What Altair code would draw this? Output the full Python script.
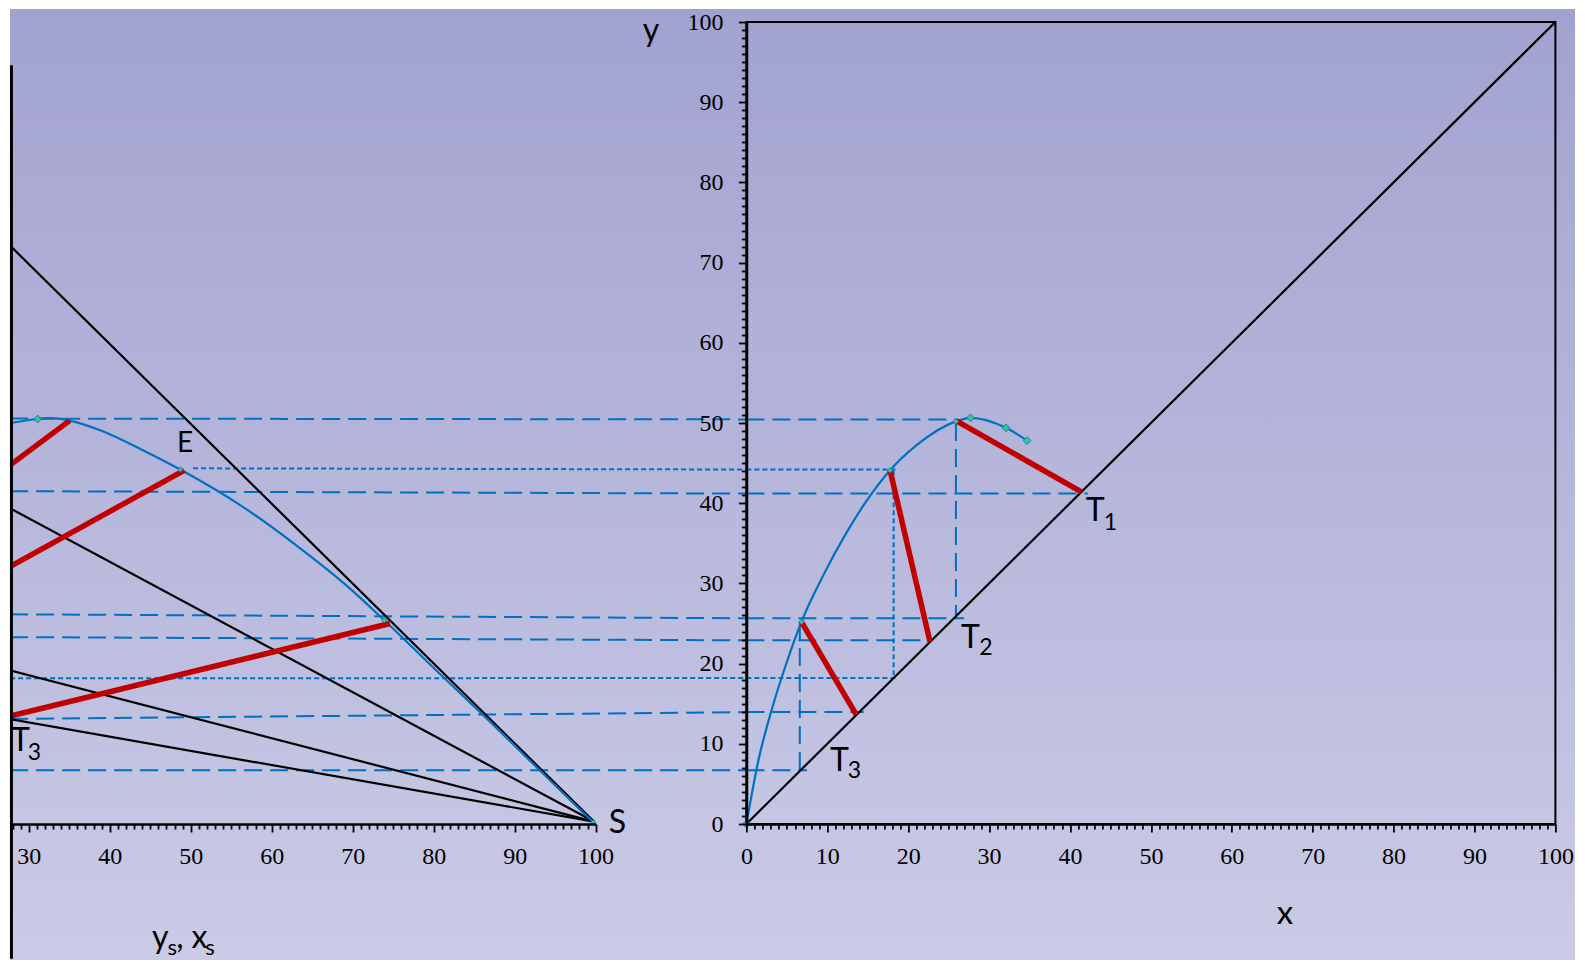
import altair as alt
import pandas as pd

# ---------------- layout (pixels) ----------------
LEFT_W = 585.6
RIGHT_W = 809
PLOT_H = 802
GAP = 150.4
LEFT_X_MIN = 27.68
LEFT_X_MAX = 100
L_PX = LEFT_W / (LEFT_X_MAX - LEFT_X_MIN)
LEFT_X_GAP_END = LEFT_X_MAX + GAP / L_PX      # left-panel units at the right panel's x = 0

BLUE = "#0070C0"
RED = "#C00000"
TEAL = "#2fc4a2"

# ---------------- data: left panel (ys, xs) ----------------
L_CURVE_X = [26.7, 31.1, 32.5, 35.05, 39.05, 43.9, 48.7, 56.2, 63.6, 69.5, 73.9, 81.3, 86.0, 93.1, 99.7]
L_CURVE_Y = [49.8, 50.5, 50.6, 50.3, 49.0, 46.7, 44.2, 39.7, 34.3, 29.5, 25.4, 18.2, 13.7, 6.7, 0.2]
L_MARK_X = [31.1, 48.7, 73.9, 99.7]
L_MARK_Y = [50.5, 44.2, 25.4, 0.2]
S_X, S_Y = 99.8, 0.3
RAY_X0 = [26.7, 26.7, 26.7, 26.7]
RAY_Y0 = [73.1, 39.9, 19.4, 13.25]
L_TIE_X1 = [26.7, 26.7, 26.7]
L_TIE_Y1 = [44.0, 31.55, 13.2]
L_TIE_X2 = [35.05, 49.2, 74.6]
L_TIE_Y2 = [50.3, 44.1, 25.0]

# ---------------- data: right panel (x, y) ----------------
R_CURVE_X = [0, 1.5, 3.2, 5.0, 6.8, 9.5, 12.3, 15.0, 17.76, 21.0, 25.9, 27.7, 32.1, 34.7]
R_CURVE_Y = [0, 8.0, 14.5, 20.2, 25.2, 31.0, 36.2, 40.5, 44.1, 47.2, 50.2, 50.65, 49.4, 47.8]
R_MARK_X = [0, 6.8, 17.76, 25.9, 27.7, 32.1, 34.7]
R_MARK_Y = [0, 25.2, 44.1, 50.2, 50.65, 49.4, 47.8]
R_MARK_SIZE = [60, 30, 30, 30, 60, 60, 60]
L_MARK_SIZE = [60, 30, 30, 30]
DIAG_X = [0, 100]
R_TIE_X1 = [25.9, 17.76, 6.8]
R_TIE_Y1 = [50.3, 44.1, 25.2]
R_TIE_X2 = [41.4, 22.7, 13.6]

# ---------------- data: construction (guide) lines ----------------
G_STYLE = ["long", "long", "long", "long", "long", "long", "dot", "dot"]
G_X0 = [27.7, 27.7, 27.7, 27.7, 27.7, 27.7, 50.3, 27.7]          # start in left panel
G_Y0 = [50.55, 41.5, 26.15, 23.3, 13.1, 6.7, 44.35, 18.17]
G_YMID = [50.45, 41.2, 25.65, 22.9, 13.95, 6.7, 44.2, 18.2]      # level in right panel
G_XEND = [25.9, 42.2, 26.9, 23.0, 14.5, 7.5, 18.5, 18.7]          # end in right panel
V_STYLE = ["long", "long", "dot"]
V_X = [25.9, 6.6, 18.2]
V_Y0 = [50.0, 25.2, 44.1]
V_Y1 = [25.65, 6.7, 18.2]

# ---------------- data: labels ----------------
R_LBL_MAIN = ["T", "T", "T"]
R_LBL_X = [43.1, 27.7, 11.5]
R_LBL_Y = [39.0, 23.2, 7.85]
R_SUB = ["1", "2", "3"]
R_SUB_X = [45.0, 29.6, 13.35]
R_SUB_Y = [37.5, 21.95, 6.6]
L_LBL = ["E", "S"]
L_LBL_X = [49.3, 102.7]
L_LBL_Y = [47.4, 0.15]
L_LBL_SIZE = [28, 32]
L_T_X, L_T_Y = 27.8, 10.3
L_T_SUB_X, L_T_SUB_Y = 30.7, 8.8
XT_MAIN = ["y", ", x"]
XT_MAIN_X = [45.22, 48.2]
XT_SUB = ["s", "s"]
XT_SUB_X = [47.14, 51.8]
XT_MAIN_Y = -15.46
XT_SUB_Y = -16.33
EDGE_X = 27.86
EDGE_Y = [94.6, -16.8]

# ---------------- scales / axes ----------------
MAJOR = "datum.value % 10 === 0"


def make_axis(values, **kw):
    base = dict(
        values=values,
        labelExpr=f"{MAJOR} ? datum.label : ''",
        tickSize=alt.ExprRef(expr=f"{MAJOR} ? 8 : 5"),
        tickWidth=1.8,
        tickColor="black",
        domainColor="black",
        domainWidth=2.7,
        labelFont="Liberation Serif",
        labelFontSize=24,
        labelColor="black",
        labelOverlap=False,
        labelFlush=False,
        grid=False,
        zindex=1,
    )
    base.update(kw)
    return alt.Axis(**base)


L_XS = alt.Scale(domain=[LEFT_X_MIN, LEFT_X_MAX], nice=False, zero=False)
L_YS = alt.Scale(domain=[0, 100], nice=False, zero=False)
L_XAXIS = make_axis(list(range(28, 101)), labelPadding=12.5, title="")

R_XS = alt.Scale(domain=[0, 100], nice=False, zero=False)
R_YS = alt.Scale(domain=[0, 100], nice=False, zero=False)
R_XAXIS = make_axis(
    list(range(0, 101)), labelPadding=12.5, title="x", titleFont="Lato", titleFontSize=33,
    titleFontWeight="normal", titleColor="black", titleX=538, titleY=99.5, titleAlign="center",
    titleBaseline="alphabetic", titleAngle=0,
)
R_YAXIS = make_axis(
    list(range(0, 101)), labelPadding=15.3, title="y", titleFont="Lato", titleFontSize=32,
    titleFontWeight="normal", titleColor="black", titleX=-96, titleY=18, titleAlign="center",
    titleBaseline="alphabetic", titleAngle=0,
)


def lx(f="x"):
    return alt.X(f"{f}:Q", scale=L_XS, axis=L_XAXIS)


def ly(f="y"):
    return alt.Y(f"{f}:Q", scale=L_YS, axis=None)


def rx(f="x"):
    return alt.X(f"{f}:Q", scale=R_XS, axis=R_XAXIS)


def ry(f="y"):
    return alt.Y(f"{f}:Q", scale=R_YS, axis=R_YAXIS)


DASH = {"long": [18, 8], "dot": [5, 3]}

# ---------------- left panel ----------------
GRAD = alt.LinearGradient(
    gradient="linear",
    stops=[alt.GradientStop(color="#a2a2d0", offset=0), alt.GradientStop(color="#cbcbe7", offset=1)],
    x1=0, x2=0, y1=0, y2=1,
)
bg = alt.Chart(pd.DataFrame({"k": [0]})).mark_rect(fill=GRAD, strokeWidth=0).encode(
    x=alt.value(0), x2=alt.value(1565), y=alt.value(-13), y2=alt.value(938)
)

l_guides_df = pd.DataFrame({
    "x": G_X0, "y": G_Y0, "x2": [LEFT_X_GAP_END] * len(G_X0), "y2": G_YMID, "style": G_STYLE,
})
l_guides = [
    alt.Chart(l_guides_df).transform_filter(f"datum.style == '{s}'")
    .mark_rule(color=BLUE, strokeWidth=2, strokeDash=DASH[s])
    .encode(x=lx(), y=ly(), x2="x2:Q", y2="y2:Q")
    for s in ["long", "dot"]
]

rays_df = pd.DataFrame({"x": RAY_X0, "y": RAY_Y0, "x2": [S_X] * 4, "y2": [S_Y] * 4})
rays = alt.Chart(rays_df).mark_rule(color="black", strokeWidth=2.2, clip=True).encode(
    x=lx(), y=ly(), x2="x2:Q", y2="y2:Q"
)

l_curve = alt.Chart(pd.DataFrame({"x": L_CURVE_X, "y": L_CURVE_Y})).mark_line(
    color=BLUE, strokeWidth=2.2, interpolate="monotone", clip=True
).encode(x=lx(), y=ly(), order="x:Q")

l_ties = alt.Chart(pd.DataFrame({"x": L_TIE_X1, "y": L_TIE_Y1, "x2": L_TIE_X2, "y2": L_TIE_Y2})).mark_rule(
    color=RED, strokeWidth=5.5, clip=True
).encode(x=lx(), y=ly(), x2="x2:Q", y2="y2:Q")

l_marks = alt.Chart(pd.DataFrame({"x": L_MARK_X, "y": L_MARK_Y, "s": L_MARK_SIZE})).mark_point(
    shape="diamond", filled=True, fill=TEAL, stroke="#1f7fa0", strokeWidth=1, opacity=1
).encode(x=lx(), y=ly(), size=alt.Size("s:Q", scale=None, legend=None))

l_text = alt.Chart(pd.DataFrame({"x": L_LBL_X, "y": L_LBL_Y, "t": L_LBL, "fs": L_LBL_SIZE})).mark_text(
    font="Lato", color="black", align="center", baseline="middle"
).encode(x=lx(), y=ly(), text="t:N", size=alt.Size("fs:Q", scale=None, legend=None))

l_t3 = alt.Chart(pd.DataFrame({"x": [L_T_X], "y": [L_T_Y], "t": ["T"]})).mark_text(
    font="Lato", fontSize=32, color="black", align="left", baseline="middle"
).encode(x=lx(), y=ly(), text="t:N")
l_t3_sub = alt.Chart(pd.DataFrame({"x": [L_T_SUB_X], "y": [L_T_SUB_Y], "t": ["3"]})).mark_text(
    font="Lato", fontSize=23, color="black", align="center", baseline="middle"
).encode(x=lx(), y=ly(), text="t:N")

xt_main = alt.Chart(pd.DataFrame({"x": XT_MAIN_X, "y": [XT_MAIN_Y] * 2, "t": XT_MAIN})).mark_text(
    font="Lato", fontSize=32, color="black", align="left", baseline="alphabetic"
).encode(x=lx(), y=ly(), text="t:N")
xt_sub = alt.Chart(pd.DataFrame({"x": XT_SUB_X, "y": [XT_SUB_Y] * 2, "t": XT_SUB})).mark_text(
    font="Lato", fontSize=22, color="black", align="left", baseline="alphabetic"
).encode(x=lx(), y=ly(), text="t:N")

edge = alt.Chart(pd.DataFrame({"x": [EDGE_X], "y": [EDGE_Y[0]], "y2": [EDGE_Y[1]]})).mark_rule(
    color="black", strokeWidth=3
).encode(x=lx(), y=ly(), y2="y2:Q")

left = alt.layer(
    bg, *l_guides, rays, l_curve, l_ties, l_marks, l_text, l_t3, l_t3_sub, xt_main, xt_sub, edge
).properties(width=LEFT_W, height=PLOT_H, view=alt.ViewBackground(stroke="transparent"))

# ---------------- right panel ----------------
r_guides_df = pd.DataFrame({
    "x": [0] * len(G_XEND), "y": G_YMID, "x2": G_XEND, "y2": G_YMID, "style": G_STYLE,
})
v_guides_df = pd.DataFrame({"x": V_X, "y": V_Y0, "x2": V_X, "y2": V_Y1, "style": V_STYLE})
r_guides = []
for df in (r_guides_df, v_guides_df):
    for s in ["long", "dot"]:
        r_guides.append(
            alt.Chart(df).transform_filter(f"datum.style == '{s}'")
            .mark_rule(color=BLUE, strokeWidth=2, strokeDash=DASH[s])
            .encode(x=rx(), y=ry(), x2="x2:Q", y2="y2:Q")
        )

diag = alt.Chart(pd.DataFrame({"x": [DIAG_X[0]], "y": [DIAG_X[0]], "x2": [DIAG_X[1]], "y2": [DIAG_X[1]]})).mark_rule(
    color="black", strokeWidth=2.2
).encode(x=rx(), y=ry(), x2="x2:Q", y2="y2:Q")

r_curve = alt.Chart(pd.DataFrame({"x": R_CURVE_X, "y": R_CURVE_Y})).mark_line(
    color=BLUE, strokeWidth=2.2, interpolate="monotone"
).encode(x=rx(), y=ry(), order="x:Q")

r_ties = alt.Chart(pd.DataFrame({"x": R_TIE_X1, "y": R_TIE_Y1, "x2": R_TIE_X2, "y2": R_TIE_X2})).mark_rule(
    color=RED, strokeWidth=5.5
).encode(x=rx(), y=ry(), x2="x2:Q", y2="y2:Q")

r_marks = alt.Chart(pd.DataFrame({"x": R_MARK_X, "y": R_MARK_Y, "s": R_MARK_SIZE})).mark_point(
    shape="diamond", filled=True, fill=TEAL, stroke="#1f7fa0", strokeWidth=1, opacity=1
).encode(x=rx(), y=ry(), size=alt.Size("s:Q", scale=None, legend=None))

r_text = alt.Chart(pd.DataFrame({"x": R_LBL_X, "y": R_LBL_Y, "t": R_LBL_MAIN})).mark_text(
    font="Lato", fontSize=32, color="black", align="center", baseline="middle"
).encode(x=rx(), y=ry(), text="t:N")
r_sub = alt.Chart(pd.DataFrame({"x": R_SUB_X, "y": R_SUB_Y, "t": R_SUB})).mark_text(
    font="Lato", fontSize=23, color="black", align="center", baseline="middle"
).encode(x=rx(), y=ry(), text="t:N")

right = alt.layer(*r_guides, diag, r_curve, r_ties, r_marks, r_text, r_sub).properties(
    width=RIGHT_W, height=PLOT_H, view=alt.ViewBackground(stroke="black", strokeWidth=2)
)

chart = (
    alt.hconcat(left, right, spacing=GAP, bounds="flush")
    .properties(padding=0)
    .configure_view(stroke="transparent")
)

chart.save("out.html", embed_options={"renderer": "svg", "actions": False})
